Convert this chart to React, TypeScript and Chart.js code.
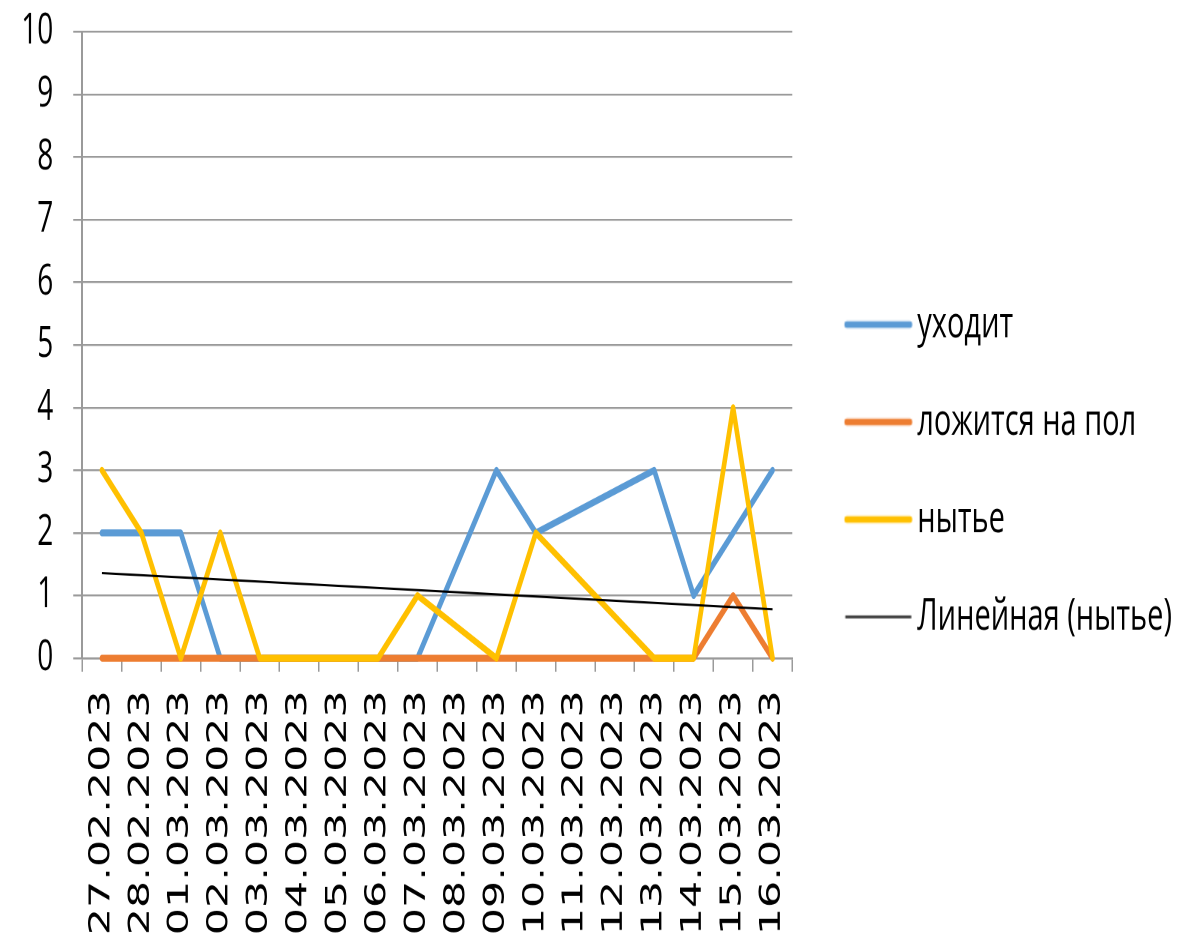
import React, { useEffect, useRef } from 'react';
import { Chart, registerables } from 'chart.js';

Chart.register(...registerables);

// ---------- data ----------
const categories: string[] = [
  '27.02.2023', '28.02.2023', '01.03.2023', '02.03.2023', '03.03.2023', '04.03.2023',
  '05.03.2023', '06.03.2023', '07.03.2023', '08.03.2023', '09.03.2023', '10.03.2023',
  '11.03.2023', '12.03.2023', '13.03.2023', '14.03.2023', '15.03.2023', '16.03.2023',
];

const seriesNames: string[] = ['уходит', 'ложится на пол', 'нытье', 'Линейная (нытье)'];

const leaves: (number | null)[] = [2, 2, 2, 0, 0, 0, 0, 0, 0, null, 3, 2, null, null, 3, 1, 2, 3];
const liesOnFloor: (number | null)[] = [0, 0, 0, 0, 0, 0, 0, 0, 0, null, 0, 0, null, null, 0, 0, 1, 0];
const whining: (number | null)[] = [3, 2, 0, 2, 0, 0, 0, 0, 1, null, 0, 2, null, null, 0, 0, 4, 0];
// linear trend of "нытье" (start and end values)
const whiningTrend: (number | null)[] = [
  1.36, null, null, null, null, null, null, null, null,
  null, null, null, null, null, null, null, null, 0.78,
];

const yMin = 0;
const yMax = 10;
const yStep = 1;

// ---------- styles ----------
const COLORS = ['#5B9BD5', '#ED7D31', '#FFC000', '#000000'];
const STRETCH_Y = 937 / 625;

function makeLegendLine(color: string, width: number, cap: CanvasLineCap, x0: number, x1: number): HTMLCanvasElement {
  const c = document.createElement('canvas');
  c.width = 100;
  c.height = 10;
  const g = c.getContext('2d')!;
  g.strokeStyle = color;
  g.lineWidth = width;
  g.lineCap = cap;
  g.beginPath();
  g.moveTo(x0, 5);
  g.lineTo(x1, 5);
  g.stroke();
  return c;
}

export default function App() {
  const canvasRef = useRef<HTMLCanvasElement>(null);

  useEffect(() => {
    const legendImgs = [
      makeLegendLine(COLORS[0], 4.5, 'round', 31, 94.5),
      makeLegendLine(COLORS[1], 4.5, 'round', 31, 94.5),
      makeLegendLine(COLORS[2], 4.5, 'round', 31, 94.5),
      makeLegendLine(COLORS[3], 1.5, 'butt', 29.75, 95.75),
    ];

    const lineStyle = {
      pointRadius: 0,
      pointHoverRadius: 0,
      spanGaps: true,
      tension: 0,
      borderJoinStyle: 'round' as const,
      borderCapStyle: 'round' as const,
      clip: false as const,
    };

    const chart = new Chart(canvasRef.current!, {
      type: 'line',
      data: {
        labels: categories,
        datasets: [
          { ...lineStyle, label: seriesNames[0], data: leaves, borderColor: COLORS[0], backgroundColor: COLORS[0], borderWidth: 4.6, order: 3 },
          { ...lineStyle, label: seriesNames[1], data: liesOnFloor, borderColor: COLORS[1], backgroundColor: COLORS[1], borderWidth: 4.6, order: 2 },
          { ...lineStyle, label: seriesNames[2], data: whining, borderColor: COLORS[2], backgroundColor: COLORS[2], borderWidth: 4.6, order: 1 },
          { ...lineStyle, label: seriesNames[3], data: whiningTrend, borderColor: COLORS[3], backgroundColor: COLORS[3], borderWidth: 1.5, borderCapStyle: 'butt' as const, order: 0 },
        ],
      },
      options: {
        animation: false,
        responsive: true,
        maintainAspectRatio: false,
        devicePixelRatio: 2,
        events: [],
        layout: { padding: { left: 1.2, right: -4, top: -8.2, bottom: -11.2 } },
        plugins: {
          tooltip: { enabled: false },
          legend: {
            position: 'right',
            align: 'center',
            maxWidth: 420,
            labels: {
              usePointStyle: true,
              pointStyleWidth: 74.5,
              padding: 36,
              color: '#000',
              font: { family: "'Open Sans', sans-serif", size: 29 },
              generateLabels: (ch: any) =>
                ch.data.datasets.map((ds: any, i: number) => ({
                  text: ds.label,
                  fillStyle: 'transparent',
                  strokeStyle: 'transparent',
                  lineWidth: 0,
                  pointStyle: legendImgs[i],
                  hidden: false,
                  datasetIndex: i,
                  fontColor: '#000',
                })),
            },
          },
        },
        scales: {
          x: {
            type: 'category',
            offset: true,
            grid: {
              display: true,
              drawOnChartArea: false,
              drawTicks: true,
              tickLength: 9,
              color: '#9a9a9a',
              lineWidth: 1.5,
              offset: true,
            },
            border: { color: '#9a9a9a', width: 1.3 },
            ticks: {
              autoSkip: false,
              minRotation: 90,
              maxRotation: 90,
              padding: 12.5,
              color: '#000',
              font: { family: "'DejaVu Sans', sans-serif", size: 28.5 },
            },
          },
          y: {
            min: yMin,
            max: yMax,
            ticks: {
              stepSize: yStep,
              autoSkip: false,
              padding: 20,
              color: '#000',
              font: { family: "'Open Sans', sans-serif", size: 28, lineHeight: 0.09 },
            },
            grid: { color: '#9a9a9a', lineWidth: 1.3, tickLength: 9 },
            border: { color: '#9a9a9a', width: 2 },
          },
        },
      },
    });
    return () => chart.destroy();
  }, []);

  return (
    <div style={{ position: 'absolute', left: 0, top: 0, width: 1178, height: 937, overflow: 'hidden', background: '#fff' }}>
      <div style={{ width: 1178, height: 625, transform: `scaleY(${STRETCH_Y})`, transformOrigin: '0 0' }}>
        <canvas ref={canvasRef} />
      </div>
    </div>
  );
}
